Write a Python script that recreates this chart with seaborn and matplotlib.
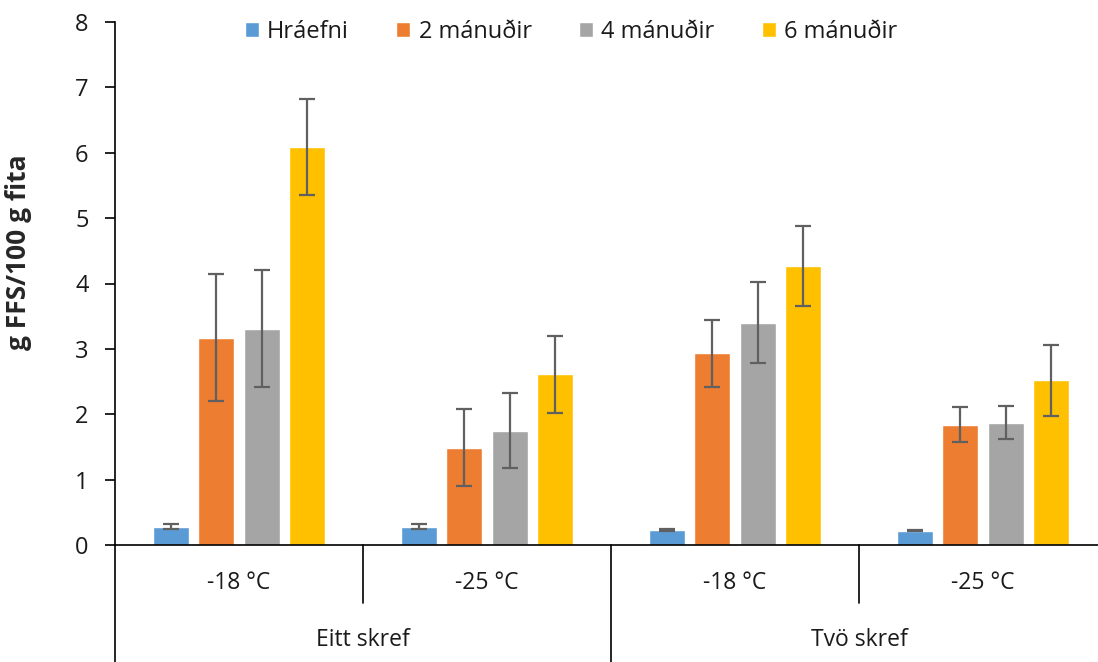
import matplotlib
matplotlib.use("Agg")
import matplotlib.pyplot as plt
import seaborn as sns
import pandas as pd
import numpy as np

# ---- data ----
methods = ["Eitt skref", "Tvö skref"]
temps = ["-18 °C", "-25 °C", "-18 °C", "-25 °C"]
group_method = ["Eitt skref", "Eitt skref", "Tvö skref", "Tvö skref"]
series = ["Hráefni", "2 mánuðir", "4 mánuðir", "6 mánuðir"]
hraefni = [0.28, 0.28, 0.23, 0.22]
man2 = [3.17, 1.49, 2.93, 1.84]
man4 = [3.31, 1.75, 3.40, 1.87]
man6 = [6.09, 2.61, 4.27, 2.52]
err_hraefni = [0.04, 0.04, 0.01, 0.01]
err_man2 = [0.97, 0.59, 0.51, 0.27]
err_man4 = [0.90, 0.57, 0.62, 0.25]
err_man6 = [0.73, 0.59, 0.61, 0.54]
y_label = "g FFS/100 g fita"
colors = ["#5B9BD5", "#ED7D31", "#A5A5A5", "#FFC000"]

values = [hraefni, man2, man4, man6]
errors = [err_hraefni, err_man2, err_man4, err_man6]
group_keys = [f"{m}|{t}" for m, t in zip(group_method, temps)]

rows = []
for s, vals in zip(series, values):
    for g, v in zip(group_keys, vals):
        rows.append({"group": g, "series": s, "value": v})
df = pd.DataFrame(rows)

sns.set_theme(style="white")
plt.rcParams["font.family"] = ["Open Sans", "DejaVu Sans"]

FS = 16.5
TXT = "#1a1a1a"

fig = plt.figure(figsize=(10.98, 6.62), dpi=100)
ax = fig.add_axes([115 / 1098, 1 - 545 / 662, 992 / 1098, 523 / 662])

sns.barplot(data=df, x="group", y="value", hue="series", order=group_keys,
            hue_order=series, palette=colors, width=0.73, gap=0.2,
            errorbar=None, ax=ax, saturation=1, legend=True)

for cont, errs in zip(ax.containers, errors):
    xs = [b.get_x() + b.get_width() / 2 for b in cont]
    hs = [b.get_height() for b in cont]
    ax.errorbar(xs, hs, yerr=errs, fmt="none", ecolor="#606060",
                elinewidth=1.6, capsize=6, capthick=1.6, zorder=5)

ax.set_xlim(-0.5, 3.5)
ax.set_ylim(0, 8)
ax.set_yticks(range(0, 9))
ax.tick_params(axis="y", which="both", left=True, length=7, width=1.2,
               color="black", labelsize=17, pad=12, direction="out")
ax.set_xticks([])
ax.set_xlabel("")
ax.set_ylabel(y_label, fontsize=19, fontweight="bold")
ax.yaxis.set_label_coords(-0.084, 0.56)
for lab in ax.get_yticklabels():
    lab.set_color(TXT)

for side in ["top", "right"]:
    ax.spines[side].set_visible(False)
for side in ["left", "bottom"]:
    ax.spines[side].set_color("black")
    ax.spines[side].set_linewidth(1.2)

trans = ax.get_xaxis_transform()
bottom_frac = -117 / 523
short_frac = -58 / 523
# long separators
for xv in [-0.5, 1.5, 3.5]:
    ax.plot([xv, xv], [0, bottom_frac], transform=trans, color="black",
            lw=1.2, clip_on=False)
# short separators
for xv in [0.5, 2.5]:
    ax.plot([xv, xv], [0, short_frac], transform=trans, color="black",
            lw=1.2, clip_on=False)
# temperature labels
for i, t in enumerate(temps):
    ax.text(i, -38 / 523, t, transform=trans, ha="center", va="center",
            fontsize=FS, color=TXT)
# method labels
for j, m in enumerate(methods):
    ax.text(2 * j + 0.5, -95 / 523, m, transform=trans, ha="center",
            va="center", fontsize=FS, color=TXT)

leg = ax.legend(loc="center", bbox_to_anchor=(571 / 1098, 1 - 32 / 662),
                bbox_transform=fig.transFigure, ncol=4, frameon=False,
                fontsize=17, handlelength=0.6, handleheight=0.6,
                handletextpad=0.35, columnspacing=2.0)
for t in leg.get_texts():
    t.set_color(TXT)

fig.savefig("out.png", dpi=100)
